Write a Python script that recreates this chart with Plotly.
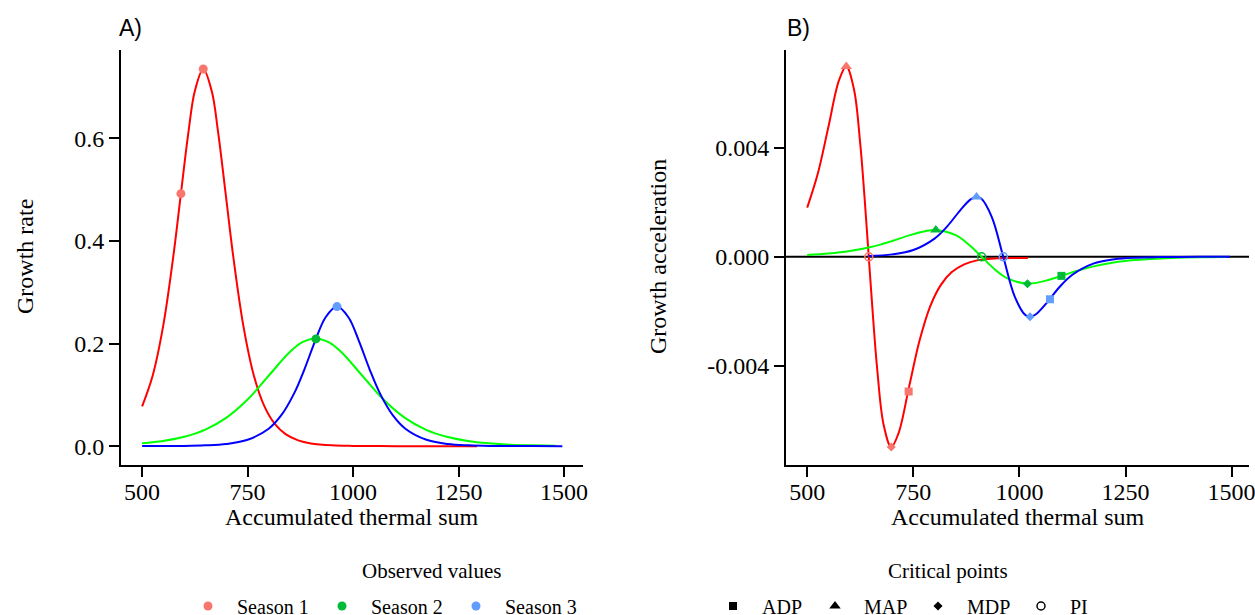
import plotly.graph_objects as go

W, H = 1255, 615

# ---------------- Panel A: growth rate ----------------
red_x_a = [500, 525, 550, 575, 592, 610, 625, 645, 665, 680, 698, 715, 740, 765, 790, 815, 840, 870, 900, 950, 1000, 1100, 1200, 1294]
red_y_a = [0.0774, 0.1373, 0.2344, 0.3763, 0.4922, 0.6131, 0.6920, 0.735, 0.6920, 0.6131, 0.4922, 0.3763, 0.2344, 0.1373, 0.0774, 0.0428, 0.0234, 0.0113, 0.0054, 0.0016, 0.0005, 0.00004, 0.0, 0.0]

green_x_a = [500, 550, 600, 650, 700, 750, 800, 850, 880, 911, 942, 972, 1022, 1072, 1122, 1172, 1222, 1272, 1322, 1372, 1422, 1480]
green_y_a = [0.0056, 0.0101, 0.0182, 0.0322, 0.0555, 0.0908, 0.1372, 0.1835, 0.2027, 0.21, 0.2027, 0.1835, 0.1372, 0.0908, 0.0555, 0.0322, 0.0182, 0.0101, 0.0056, 0.0030, 0.0017, 0.0008]

blue_x_a = [500, 600, 650, 700, 750, 800, 830, 860, 885, 910, 935, 962, 989, 1014, 1039, 1064, 1094, 1124, 1174, 1224, 1274, 1324, 1424, 1496]
blue_y_a = [0.0001, 0.0005, 0.0016, 0.0044, 0.0124, 0.0340, 0.0603, 0.1023, 0.1503, 0.2047, 0.2513, 0.272, 0.2513, 0.2047, 0.1503, 0.1023, 0.0603, 0.0340, 0.0124, 0.0044, 0.0016, 0.0005, 0.0001, 0.0]

# observed values
obs_s1_x = [592, 645]
obs_s1_y = [0.492, 0.735]
obs_s2_x = [912]
obs_s2_y = [0.209]
obs_s3_x = [962]
obs_s3_y = [0.272]

# ---------------- Panel B: growth acceleration ----------------
red_x_b = [500, 525, 550, 575, 592, 610, 625, 635, 645, 655, 665, 680, 698, 715, 740, 765, 790, 815, 840, 870, 900, 950, 1000, 1020]
red_y_b = [0.00181, 0.00306, 0.00478, 0.00649, 0.00699, 0.00617, 0.00414, 0.00220, 0.0, -0.00220, -0.00414, -0.00617, -0.00699, -0.00649, -0.00478, -0.00306, -0.00181, -0.00103, -0.00057, -0.00028, -0.00013, -0.00005, -0.00004, -0.00004]

green_x_b = [500, 550, 600, 650, 700, 750, 800, 850, 880, 911, 942, 972, 1022, 1072, 1122, 1172, 1222, 1272, 1322, 1372, 1422, 1487]
green_y_b = [0.000067, 0.00012, 0.000212, 0.000361, 0.00058, 0.000833, 0.000984, 0.000794, 0.000461, 0.0, -0.000461, -0.000794, -0.000984, -0.000833, -0.00058, -0.000361, -0.000212, -0.00012, -0.000067, -0.000036, -0.00002, -0.00001]

blue_x_b = [645, 700, 750, 800, 830, 860, 885, 899, 910, 935, 962, 989, 1014, 1025, 1039, 1064, 1094, 1124, 1174, 1224, 1274, 1324, 1424, 1496]
blue_y_b = [0.00003, 0.00009, 0.00025, 0.00067, 0.00112, 0.0017, 0.00211, 0.0022, 0.00214, 0.00146, 0.0, -0.00146, -0.00214, -0.0022, -0.00211, -0.0017, -0.00112, -0.00067, -0.00025, -0.00009, -0.00003, -0.00001, 0.0, 0.0]

# critical points (order: Season 1, Season 2, Season 3)
adp_x = [739, 1099, 1072]
adp_y = [-0.00495, -0.0007, -0.00156]
map_x = [592, 803, 899]
map_y = [0.00699, 0.00099, 0.0022]
mdp_x = [698, 1019, 1025]
mdp_y = [-0.00699, -0.00099, -0.0022]
pi_x = [645, 911, 962]
pi_y = [0.0, 0.0, 0.0]

seasons = ["Season 1", "Season 2", "Season 3"]
point_colors = ["#F8766D", "#00BA38", "#619CFF"]
line_colors = ["#FF0000", "#00FF00", "#0000FF"]
crit_names = ["ADP", "MAP", "MDP", "PI"]

xticks = [500, 750, 1000, 1250, 1500]
yticks_a = [0.0, 0.2, 0.4, 0.6]
yticks_a_text = ["0.0", "0.2", "0.4", "0.6"]
yticks_b = [-0.004, 0.0, 0.004]
yticks_b_text = ["-0.004", "0.000", "0.004"]

SERIF = "Liberation Serif"
SANS = "Liberation Sans"

fig = go.Figure()

# lines panel A
for xs, ys, c in [(red_x_a, red_y_a, line_colors[0]), (green_x_a, green_y_a, line_colors[1]), (blue_x_a, blue_y_a, line_colors[2])]:
    fig.add_trace(go.Scatter(x=xs, y=ys, mode="lines", line=dict(color=c, width=2, shape="spline"),
                             showlegend=False, xaxis="x", yaxis="y", hoverinfo="skip"))

# observed points panel A (also the season legends)
for i, (xs, ys) in enumerate([(obs_s1_x, obs_s1_y), (obs_s2_x, obs_s2_y), (obs_s3_x, obs_s3_y)]):
    fig.add_trace(go.Scatter(x=xs, y=ys, mode="markers", name=seasons[i],
                             marker=dict(color=point_colors[i], size=9, line=dict(width=0)),
                             xaxis="x", yaxis="y", legend=["legend", "legend2", "legend3"][i]))

# lines panel B
for xs, ys, c in [(red_x_b, red_y_b, line_colors[0]), (green_x_b, green_y_b, line_colors[1]), (blue_x_b, blue_y_b, line_colors[2])]:
    fig.add_trace(go.Scatter(x=xs, y=ys, mode="lines", line=dict(color=c, width=2, shape="spline"),
                             showlegend=False, xaxis="x2", yaxis="y2", hoverinfo="skip"))

# critical points panel B
crit_sets = [(adp_x, adp_y, "square", 8), (map_x, map_y, "triangle-up", 10),
             (mdp_x, mdp_y, "diamond", 7), (pi_x, pi_y, "circle-open", 8)]
for (xs, ys, sym, sz), nm in zip(crit_sets, crit_names):
    if sym == "circle-open":
        mk = dict(symbol=sym, size=sz, color=point_colors, line=dict(width=1.5, color=point_colors))
    else:
        mk = dict(symbol=sym, size=sz, color=point_colors, line=dict(width=0))
    fig.add_trace(go.Scatter(x=xs, y=ys, mode="markers", marker=mk, showlegend=False,
                             xaxis="x2", yaxis="y2", name=nm))

# black legend keys for critical points
for j, ((xs, ys, sym, sz), nm) in enumerate(zip(crit_sets, crit_names)):
    if sym == "circle-open":
        mk = dict(symbol=sym, size=8, color="black", line=dict(width=1.5, color="black"))
    else:
        mk = dict(symbol=sym, size=sz, color="black", line=dict(width=0))
    fig.add_trace(go.Scatter(x=[None], y=[None], mode="markers", marker=mk, name=nm,
                             xaxis="x2", yaxis="y2", legend="legend%d" % (4 + j)))

def px_x(v):
    return v / W

def px_y(v):
    return 1 - v / H

axis_common = dict(showline=True, linecolor="black", linewidth=2, ticks="outside", ticklen=10,
                   tickwidth=2, tickcolor="black", showgrid=False, zeroline=False,
                   ticklabeloverflow="allow",
                   tickfont=dict(family=SERIF, size=24, color="black"))

ydom = [px_y(465), px_y(50)]

layout = dict(
    width=W, height=H,
    margin=dict(l=0, r=0, t=0, b=0, autoexpand=False),
    paper_bgcolor="white", plot_bgcolor="white",
    xaxis=dict(domain=[px_x(121), px_x(583)], range=[450, 1545], tickvals=xticks, anchor="y",
               ticklabelstandoff=-6, **axis_common),
    yaxis=dict(domain=ydom, range=[-0.0367, 0.772], tickvals=yticks_a, ticktext=yticks_a_text, anchor="x", **axis_common),
    xaxis2=dict(domain=[px_x(786), px_x(1249)], range=[450, 1541], tickvals=xticks, anchor="y2",
                ticklabelstandoff=-6, **axis_common),
    yaxis2=dict(domain=ydom, range=[-0.00765, 0.0076], tickvals=yticks_b, ticktext=yticks_b_text, anchor="x2", **axis_common),
    shapes=[dict(type="line", xref="x2 domain", x0=0, x1=1, yref="y2", y0=0, y1=0,
                 line=dict(color="black", width=2), layer="below")],
)

legend_centers = [208, 342, 476, 733, 835, 938, 1041]
legend_keys = ["legend", "legend2", "legend3", "legend4", "legend5", "legend6", "legend7"]
for key, cx in zip(legend_keys, legend_centers):
    layout[key] = dict(x=px_x(cx - 29), y=px_y(606), xanchor="left", yanchor="middle",
                       orientation="h", itemwidth=48, bgcolor="rgba(0,0,0,0)", borderwidth=0,
                       font=dict(family=SERIF, size=20, color="black"), itemclick=False, itemdoubleclick=False)

fig.update_layout(**layout)

ann_font = dict(family=SERIF, size=24, color="black")
annotations = [
    dict(text="Accumulated thermal sum", x=px_x(352), y=px_y(517), xref="paper", yref="paper",
         xanchor="center", yanchor="middle", showarrow=False, font=ann_font),
    dict(text="Accumulated thermal sum", x=px_x(1018), y=px_y(517), xref="paper", yref="paper",
         xanchor="center", yanchor="middle", showarrow=False, font=ann_font),
    dict(text="Growth rate", x=px_x(25), y=px_y(257), xref="paper", yref="paper", textangle=-90,
         xanchor="center", yanchor="middle", showarrow=False, font=ann_font),
    dict(text="Growth acceleration", x=px_x(658), y=px_y(257), xref="paper", yref="paper", textangle=-90,
         xanchor="center", yanchor="middle", showarrow=False, font=ann_font),
    dict(text="A)", x=px_x(117), y=px_y(28), xref="paper", yref="paper",
         xanchor="left", yanchor="middle", showarrow=False, font=dict(family=SANS, size=23, color="black")),
    dict(text="B)", x=px_x(785), y=px_y(28), xref="paper", yref="paper",
         xanchor="left", yanchor="middle", showarrow=False, font=dict(family=SANS, size=23, color="black")),
    dict(text="Observed values", x=px_x(431), y=px_y(571), xref="paper", yref="paper",
         xanchor="center", yanchor="middle", showarrow=False, font=dict(family=SERIF, size=21, color="black")),
    dict(text="Critical points", x=px_x(948), y=px_y(571), xref="paper", yref="paper",
         xanchor="center", yanchor="middle", showarrow=False, font=dict(family=SERIF, size=21, color="black")),
]
fig.update_layout(annotations=annotations)

fig.write_html("out.html", config={"displayModeBar": False},
               post_script="document.body.style.margin='0';document.body.style.overflow='hidden';")
